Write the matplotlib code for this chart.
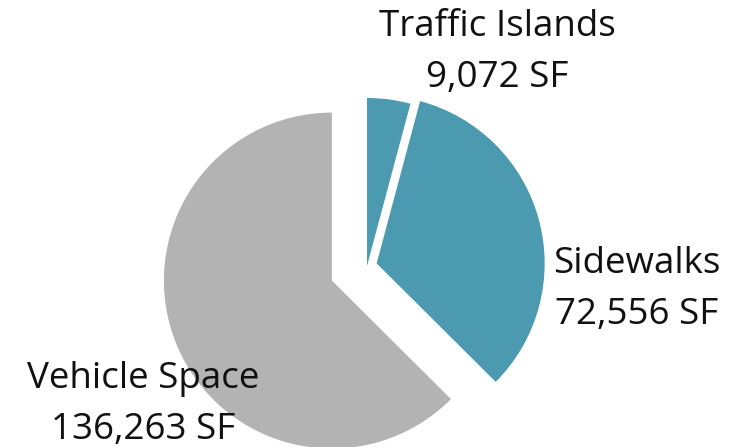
import matplotlib
matplotlib.use("Agg")
import matplotlib.pyplot as plt

# areas in square feet
categories = ["Traffic Islands", "Sidewalks", "Vehicle Space"]
areas = [9072, 72556, 136263]

colors = ["#4B9AB0", "#4B9AB0", "#B3B3B3"]

W, H = 743, 447
fig = plt.figure(figsize=(W / 100, H / 100), dpi=100)
ax = fig.add_axes([0, 0, 1, 1])

# pie drawn in pixel-like data units (y up)
ax.pie(areas, colors=colors, startangle=90, counterclock=False,
       center=(367, H - 266), radius=168, explode=[0, 10, 38],
       wedgeprops=dict(linewidth=0))

ax.set_xlim(0, W)
ax.set_ylim(0, H)
ax.set_aspect("equal")
ax.axis("off")

# label anchor points (x center, baseline of first line), image coords
label_pos = [(497, 36), (637, 273), (143, 388)]
line_gap = 51

for name, val, (x, y) in zip(categories, areas, label_pos):
    ax.text(x, H - y, name, ha="center", va="baseline",
            fontsize=26.5, family="Open Sans", color="#111111")
    ax.text(x, H - y - line_gap, f"{val:,} SF", ha="center", va="baseline",
            fontsize=26.5, family="Open Sans", color="#111111")

fig.savefig("out.png", dpi=100)
